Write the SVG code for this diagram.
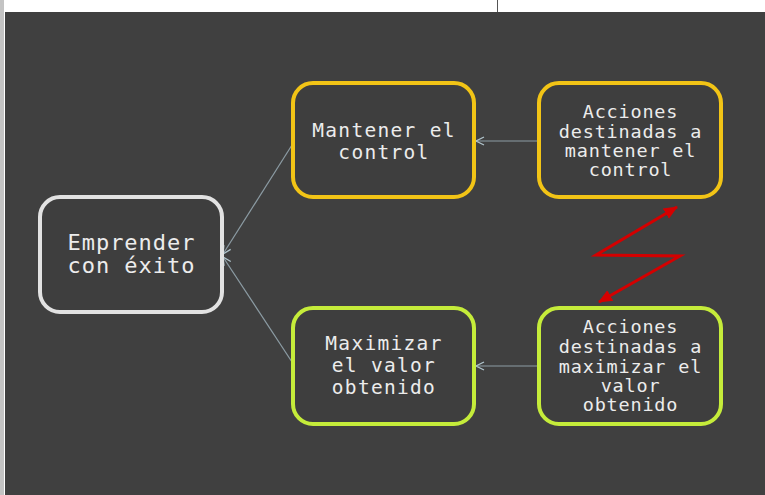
<svg xmlns="http://www.w3.org/2000/svg" width="765" height="495" viewBox="0 0 765 495">
<defs>
<style>
.bg{fill:#404040}
.box{fill:#3e3e3e;stroke-width:4}
.w{stroke:#e2e2e2}
.y{stroke:#f2c416}
.g{stroke:#c5ec3a}
.t{font-family:"DejaVu Sans Mono","Liberation Mono",monospace;fill:#ececec;text-anchor:middle}
.xl{font-size:22px;letter-spacing:1px}
.big{font-size:19.5px;letter-spacing:1.3px}
.sm{font-size:18.5px;letter-spacing:0.8px}
.con{stroke:#8c9ca4;stroke-width:1.2;fill:none}
.bolt{stroke:#d40000;stroke-width:3;fill:none;stroke-linejoin:miter}
</style>
<marker id="ah" markerWidth="10" markerHeight="10" refX="9" refY="5" orient="auto" markerUnits="userSpaceOnUse">
<path d="M1,1 L9,5 L1,9" fill="none" stroke="#b0c4cc" stroke-width="1.3"/>
</marker>
<marker id="rh" markerWidth="16" markerHeight="16" refX="13" refY="8" orient="auto-start-reverse" markerUnits="userSpaceOnUse">
<path d="M0,2 L14,8 L0,14 Z" fill="#d40000"/>
</marker>
</defs>
<rect x="0" y="0" width="765" height="495" fill="#ffffff"/>
<line x1="1" y1="0" x2="1" y2="495" stroke="#888" stroke-width="1"/>
<line x1="3" y1="0" x2="3" y2="495" stroke="#888" stroke-width="1"/>
<line x1="497.5" y1="0" x2="497.5" y2="12" stroke="#555" stroke-width="1"/>
<rect class="bg" x="5" y="12" width="760" height="483"/>

<g id="connectors">
<line class="con" x1="292" y1="145" x2="223" y2="254" marker-end="url(#ah)"/>
<line class="con" x1="292" y1="362" x2="223" y2="257" marker-end="url(#ah)"/>
<line class="con" x1="538" y1="141" x2="476" y2="141" marker-end="url(#ah)"/>
<line class="con" x1="538" y1="366" x2="476" y2="366" marker-end="url(#ah)"/>
<polyline class="bolt" points="599,302 680,256 596,255 677,207" marker-start="url(#rh)" marker-end="url(#rh)"/>
</g>

<g id="emprender">
<rect class="box w" x="40" y="197" width="182" height="115" rx="20"/>
<text class="t xl" x="131.5" y="250">Emprender</text>
<text class="t xl" x="131.5" y="273">con éxito</text>
</g>

<g id="mantener">
<rect class="box y" x="293" y="83" width="181" height="114" rx="20"/>
<text class="t big" x="384" y="137">Mantener el</text>
<text class="t big" x="384" y="159">control</text>
</g>

<g id="acciones-mantener">
<rect class="box y" x="539" y="83" width="182" height="114" rx="20"/>
<text class="t sm" x="630.5" y="118">Acciones</text>
<text class="t sm" x="630.5" y="138">destinadas a</text>
<text class="t sm" x="630.5" y="157">mantener el</text>
<text class="t sm" x="630.5" y="176">control</text>
</g>

<g id="maximizar">
<rect class="box g" x="293" y="308" width="181" height="116" rx="20"/>
<text class="t big" x="384" y="349.5">Maximizar</text>
<text class="t big" x="384" y="371.5">el valor</text>
<text class="t big" x="384" y="393.5">obtenido</text>
</g>

<g id="acciones-maximizar">
<rect class="box g" x="539" y="308" width="182" height="116" rx="20"/>
<text class="t sm" x="630.5" y="333">Acciones</text>
<text class="t sm" x="630.5" y="353">destinadas a</text>
<text class="t sm" x="630.5" y="373">maximizar el</text>
<text class="t sm" x="630.5" y="392">valor</text>
<text class="t sm" x="630.5" y="411">obtenido</text>
</g>
</svg>
